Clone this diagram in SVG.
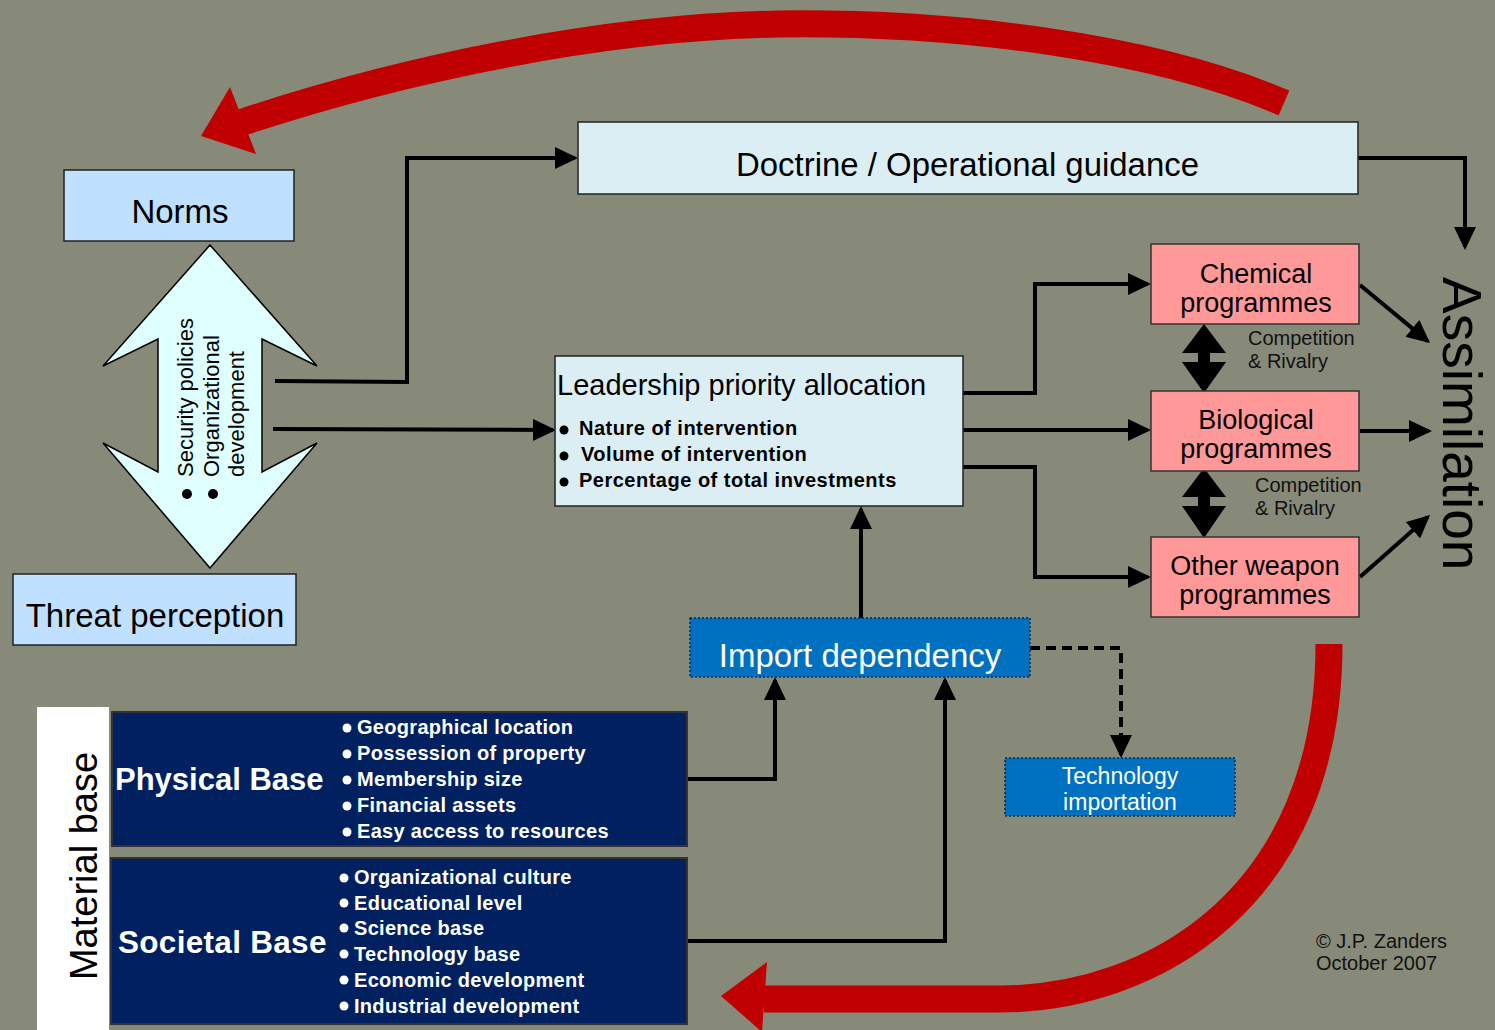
<svg xmlns="http://www.w3.org/2000/svg" width="1495" height="1030" viewBox="0 0 1495 1030">
<style>
text{font-family:"Liberation Sans",Arial,Helvetica,sans-serif;}
.ln{fill:none;stroke:#000;stroke-width:4;}
.dash{stroke-dasharray:10,6;}
.red{fill:none;stroke:#c00000;stroke-width:27;}
.redh{fill:#c00000;}
.lb{fill:#c0e0ff;stroke:#222;stroke-width:1.5;}
.pale{fill:#dbeef4;stroke:#222;stroke-width:1.5;}
.pink{fill:#ff9999;stroke:#333;stroke-width:1.5;}
.blue{fill:#0070c0;stroke:#0b2a4a;stroke-width:1.5;stroke-dasharray:2,2;}
.navy{fill:#002060;stroke:#333;stroke-width:2;}
.prog{font-size:27px;fill:#000;text-anchor:middle;}
.comp{font-size:20px;fill:#111;}
.bul{font-size:20px;font-weight:bold;fill:#fff;letter-spacing:0.3px;}
.lbul{font-size:20px;font-weight:bold;fill:#000;letter-spacing:0.5px;}
.dv{font-size:22px;fill:#000;}
</style>
<defs>
<marker id="ah" viewBox="0 0 23 22" markerWidth="23" markerHeight="22" refX="20" refY="11" orient="auto" markerUnits="userSpaceOnUse">
<path d="M0,0 L23,11 L0,22 z" fill="#000"/>
</marker>
</defs>
<rect x="0" y="0" width="1495" height="1030" fill="#878a78"/>

<g id="connectors">
<path class="red" d="M1284,103 C1150,45 950,22 780,24 C600,27 400,70 243,122"/>
<polygon class="redh" points="201,136 230,87 256,154"/>
<path class="red" d="M1329,644 C1329,900 1150,999 1000,999 L764,999"/>
<polygon class="redh" points="721,996 767,962 762,1032"/>

<path class="ln" marker-end="url(#ah)" d="M275,381 L407,382 L407,158 L575,158"/>
<path class="ln" marker-end="url(#ah)" d="M273,429 L553,430"/>
<path class="ln" marker-end="url(#ah)" d="M963,393 L1035,393 L1035,284 L1148,284"/>
<path class="ln" marker-end="url(#ah)" d="M963,430 L1148,430"/>
<path class="ln" marker-end="url(#ah)" d="M963,467 L1035,467 L1035,577 L1148,577"/>
<path class="ln" marker-end="url(#ah)" d="M1358,158 L1465,158 L1465,247"/>
<path class="ln" marker-end="url(#ah)" d="M1360,285 L1427.7,341.1"/>
<path class="ln" marker-end="url(#ah)" d="M1360,431 L1429,431"/>
<path class="ln" marker-end="url(#ah)" d="M1360,577 L1427.8,517"/>
<path class="ln" marker-end="url(#ah)" d="M861,618 L861,509"/>
<path class="ln" marker-end="url(#ah)" d="M687,779 L775,779 L775,680"/>
<path class="ln" marker-end="url(#ah)" d="M687,941 L945,941 L945,680"/>
<path class="ln dash" marker-end="url(#ah)" d="M1030,648 L1121,648 L1121,755"/>
<polygon fill="#000" points="1204,324 1226,353 1210,353 1210,362 1226,362 1204,393 1182,362 1198,362 1198,353 1182,353"/>
<polygon fill="#000" points="1204,468 1226,497 1210,497 1210,506 1226,506 1204,538 1182,506 1198,506 1198,497 1182,497"/>
</g>

<g id="norms">
<rect class="lb" x="64" y="170" width="230" height="71"/>
<text x="180" y="223" font-size="33" text-anchor="middle">Norms</text>
</g>

<g id="threat-perception">
<rect class="lb" x="13" y="574" width="283" height="71"/>
<text x="155" y="627" font-size="33" text-anchor="middle">Threat perception</text>
</g>

<g id="security-arrow">
<polygon fill="#e0ffff" stroke="#000" stroke-width="1.5" points="210,245 317,366 262,339 262,472 317,443 210,568 103,443 158,472 158,339 103,366"/>
<text class="dv" x="193" y="477" transform="rotate(-90 193 477)">Security policies</text>
<text class="dv" x="219" y="477" transform="rotate(-90 219 477)">Organizational</text>
<text class="dv" x="244" y="477" transform="rotate(-90 244 477)">development</text>
<circle cx="187" cy="494" r="5" fill="#000"/>
<circle cx="213" cy="494" r="5" fill="#000"/>
</g>

<g id="doctrine">
<rect class="pale" x="578" y="122" width="780" height="72"/>
<text x="736" y="176" font-size="34" textLength="463" lengthAdjust="spacingAndGlyphs">Doctrine / Operational guidance</text>
</g>

<g id="leadership">
<rect class="pale" x="555" y="356" width="408" height="150"/>
<text x="557" y="395" font-size="29">Leadership priority allocation</text>
<circle cx="564" cy="430" r="4.5" fill="#000"/>
<circle cx="564" cy="456" r="4.5" fill="#000"/>
<circle cx="564" cy="482" r="4.5" fill="#000"/>
<text class="lbul" x="579" y="435">Nature of intervention</text>
<text class="lbul" x="581" y="461">Volume of intervention</text>
<text class="lbul" x="579" y="487">Percentage of total investments</text>
</g>

<g id="chemical">
<rect class="pink" x="1151" y="244" width="208" height="80"/>
<text class="prog" x="1256" y="283">Chemical</text>
<text class="prog" x="1256" y="312">programmes</text>
</g>

<g id="biological">
<rect class="pink" x="1151" y="391" width="208" height="80"/>
<text class="prog" x="1256" y="429">Biological</text>
<text class="prog" x="1256" y="458">programmes</text>
</g>

<g id="other-weapon">
<rect class="pink" x="1151" y="537" width="208" height="80"/>
<text class="prog" x="1255" y="575">Other weapon</text>
<text class="prog" x="1255" y="604">programmes</text>
</g>

<g id="competition-labels">
<text class="comp" x="1248" y="345">Competition</text>
<text class="comp" x="1248" y="368">&amp; Rivalry</text>
<text class="comp" x="1255" y="492">Competition</text>
<text class="comp" x="1255" y="515">&amp; Rivalry</text>
</g>

<g id="assimilation">
<text x="1443" y="277" font-size="55" transform="rotate(90 1443 277)">Assimilation</text>
</g>

<g id="import-dependency">
<rect class="blue" x="690" y="618" width="340" height="59"/>
<text x="860" y="667" font-size="33" fill="#fff" text-anchor="middle">Import dependency</text>
</g>

<g id="technology-importation">
<rect class="blue" x="1005" y="758" width="230" height="58"/>
<text x="1120" y="784" font-size="23" fill="#fff" text-anchor="middle">Technology</text>
<text x="1120" y="810" font-size="23" fill="#fff" text-anchor="middle">importation</text>
</g>

<g id="material-base">
<rect x="37" y="707" width="72" height="323" fill="#fff"/>
<text x="97" y="866" font-size="38" text-anchor="middle" transform="rotate(-90 97 866)">Material base</text>
</g>

<g id="physical-base">
<rect class="navy" x="112" y="712" width="575" height="134"/>
<text x="115" y="790" font-size="31" font-weight="bold" fill="#fff">Physical Base</text>
<g fill="#fff">
<circle cx="347" cy="728" r="4.5"/><circle cx="347" cy="754" r="4.5"/><circle cx="347" cy="780" r="4.5"/><circle cx="347" cy="806" r="4.5"/><circle cx="347" cy="832" r="4.5"/>
</g>
<text class="bul" x="357" y="734">Geographical location</text>
<text class="bul" x="357" y="760">Possession of property</text>
<text class="bul" x="357" y="786">Membership size</text>
<text class="bul" x="357" y="812">Financial assets</text>
<text class="bul" x="357" y="838">Easy access to resources</text>
</g>

<g id="societal-base">
<rect class="navy" x="111" y="858" width="576" height="166"/>
<text x="118" y="953" font-size="31.5" font-weight="bold" fill="#fff" letter-spacing="0.3">Societal Base</text>
<g fill="#fff">
<circle cx="344" cy="878" r="4.5"/><circle cx="344" cy="903" r="4.5"/><circle cx="344" cy="928" r="4.5"/><circle cx="344" cy="954" r="4.5"/><circle cx="344" cy="980" r="4.5"/><circle cx="344" cy="1006" r="4.5"/>
</g>
<text class="bul" x="354" y="884">Organizational culture</text>
<text class="bul" x="354" y="910">Educational level</text>
<text class="bul" x="354" y="935">Science base</text>
<text class="bul" x="354" y="961">Technology base</text>
<text class="bul" x="354" y="987">Economic development</text>
<text class="bul" x="354" y="1013">Industrial development</text>
</g>

<g id="copyright">
<text x="1316" y="948" font-size="20" fill="#111">© J.P. Zanders</text>
<text x="1316" y="970" font-size="20" fill="#111">October 2007</text>
</g>
</svg>
